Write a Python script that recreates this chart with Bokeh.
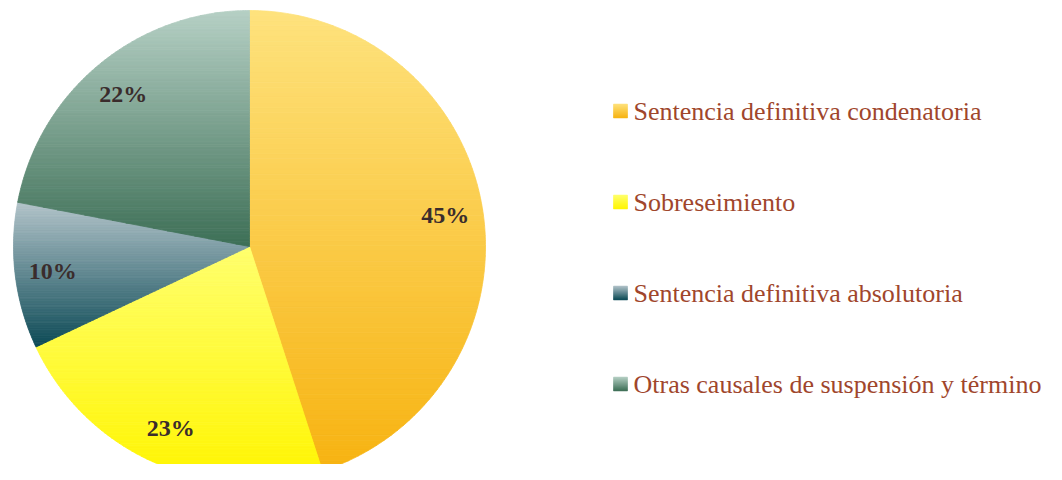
import numpy as np
from bokeh.plotting import figure
from bokeh.models import Range1d
from bokeh.core.properties import value
from bokeh.embed import file_html
from bokeh.resources import INLINE

# ---- data ----
categories = ["Sentencia definitiva condenatoria", "Sobreseimiento",
              "Sentencia definitiva absolutoria", "Otras causales de suspensión y término"]
shares = [45, 23, 10, 22]
labels = ["45%", "23%", "10%", "22%"]
top_colors = ["#FEE27D", "#FFFF6E", "#B3C4CA", "#B6D0C5"]
bottom_colors = ["#F7B311", "#FFF500", "#0D4A56", "#3D6F56"]

# ---- layout (image pixels mapped to data: x = image x, y = 480 - image y) ----
W, H = 1046, 464
CX, CY, R = 249.0, 480 - 246.0, 236.0
LABEL_R = 0.84 * R
LEG_X, LEG_Y0, LEG_DY = 620.0, 480 - 110.5, 91.0
SQ = 14.0

p = figure(width=W, height=H, x_range=Range1d(0, W), y_range=Range1d(480 - H, 480),
           output_backend="svg", toolbar_location=None, min_border=0)
p.axis.visible = False
p.grid.visible = False
p.outline_line_color = None
p.background_fill_color = "white"


def hex2rgb(h):
    h = h.lstrip("#")
    return np.array([int(h[i:i + 2], 16) for i in (0, 2, 4)], dtype=float)


def mix(c0, c1, t):
    c = hex2rgb(c0) * (1 - t) + hex2rgb(c1) * t
    return "#%02x%02x%02x" % tuple(int(round(v)) for v in c)


def clip_half(poly, y, keep_above):
    out = []
    n = len(poly)
    for i in range(n):
        a, b = poly[i], poly[(i + 1) % n]
        ina = a[1] >= y if keep_above else a[1] <= y
        inb = b[1] >= y if keep_above else b[1] <= y
        if ina:
            out.append(a)
        if ina != inb:
            t = (y - a[1]) / (b[1] - a[1])
            out.append((a[0] + t * (b[0] - a[0]), y))
    return out


xs_all, ys_all, cols_all = [], [], []
total = float(sum(shares))
start = 90.0
mid_angles = []
for i, s in enumerate(shares):
    sweep = 360.0 * s / total
    a0, a1 = start, start - sweep
    mid_angles.append(np.radians((a0 + a1) / 2))
    th = np.radians(np.linspace(a0, a1, 200))
    poly = [(CX, CY)] + [(CX + R * np.cos(t), CY + R * np.sin(t)) for t in th]
    ys = [pt[1] for pt in poly]
    ymin, ymax = min(ys), max(ys)
    N = 90
    edges = np.linspace(ymax, ymin, N + 1)
    for k in range(N):
        yt, yb = edges[k], edges[k + 1]
        pc = clip_half(poly, yb, True)
        pc = clip_half(pc, yt, False) if pc else []
        if len(pc) < 3:
            continue
        t = (k + 0.5) / N
        xs_all.append([q[0] for q in pc])
        ys_all.append([q[1] for q in pc])
        cols_all.append(mix(top_colors[i], bottom_colors[i], t))
    start = a1

p.patches(xs_all, ys_all, fill_color=cols_all, line_color=cols_all, line_width=0.8)

# slice labels
lx = [CX + LABEL_R * np.cos(a) for a in mid_angles]
ly = [CY + LABEL_R * np.sin(a) for a in mid_angles]
p.text(lx, ly, text=labels, text_align="center", text_baseline="middle",
       text_font=value("Liberation Serif"), text_font_style="bold",
       text_font_size="24px", text_color="#3A2C2C")

# legend with gradient squares
qx0, qx1, qy0, qy1, qc = [], [], [], [], []
NS = 14
for i in range(len(categories)):
    cy = LEG_Y0 - i * LEG_DY
    for k in range(NS):
        top = cy + SQ / 2 - k * SQ / NS
        bot = top - SQ / NS
        qx0.append(LEG_X - SQ / 2)
        qx1.append(LEG_X + SQ / 2)
        qy0.append(bot)
        qy1.append(top)
        qc.append(mix(top_colors[i], bottom_colors[i], (k + 0.5) / NS))
p.quad(left=qx0, right=qx1, bottom=qy0, top=qy1, fill_color=qc, line_color=qc, line_width=0.5)

p.text([LEG_X + SQ / 2 + 6] * len(categories),
       [LEG_Y0 - i * LEG_DY for i in range(len(categories))],
       text=categories, text_align="left", text_baseline="middle",
       text_font=value("Liberation Serif"), text_font_size="26px", text_color="#A0462C")

open("out.html", "w").write(file_html(p, INLINE))
